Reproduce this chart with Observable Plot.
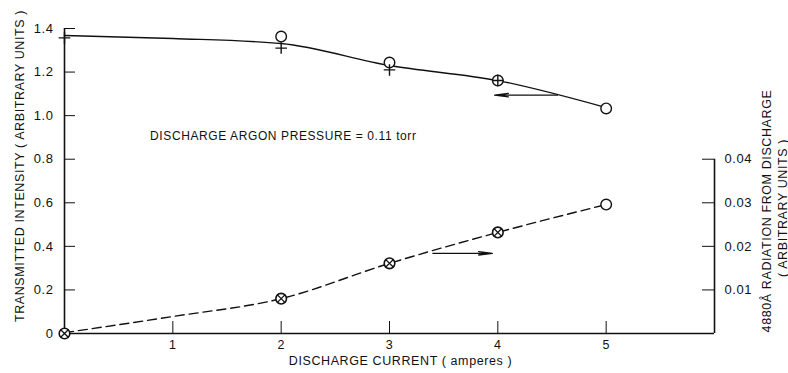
<!DOCTYPE html>
<html><head><meta charset="utf-8">
<script src="https://cdn.jsdelivr.net/npm/d3@7"></script>
<script src="https://cdn.jsdelivr.net/npm/@observablehq/plot@0.6"></script>
<style>
body{margin:0;background:#fff;}
#chart svg{display:block;}
</style></head><body><div id="chart"></div>
<script>
// Discharge current (amperes)
const current = [0, 1, 2, 3, 4, 5];
// Transmitted intensity (left axis, arbitrary units): smooth curve readings
const transmittedCurve = [1.368, 1.354, 1.331, 1.230, 1.161, 1.037];
// Open-circle measurements
const circleX = [2, 3, 4, 5];
const circleY = [1.363, 1.244, 1.161, 1.033];
// Plus measurements
const plusX = [0, 2, 3, 4];
const plusY = [1.357, 1.31, 1.21, 1.161];
// 4880 Å radiation (right axis, arbitrary units)
const radCrossX = [0, 2, 3, 4];
const radCrossY = [0, 0.0080, 0.0161, 0.0232];
const radOpenX = [5];
const radOpenY = [0.0296];
const radCurve = [0.0002, 0.0039, 0.0080, 0.0161, 0.0232, 0.0296];
// Ticks
const xTicks = [1, 2, 3, 4, 5];
const leftTicks = [0, 0.2, 0.4, 0.6, 0.8, 1.0, 1.2, 1.4];
const rightTicks = [0.01, 0.02, 0.03, 0.04];
// Arrows pointing to the relevant axis (x in amperes, y in left units)
const arrowX1 = [4.55, 3.40];
const arrowX2 = [3.97, 3.95];
const arrowY = [1.094, 0.368];
// Texts
const noteText = ["DISCHARGE ARGON PRESSURE = 0.11 torr"];
const noteX = [0.79];
const noteY = [0.905];
const xLabel = "DISCHARGE CURRENT ( amperes )";
const yLabel = "TRANSMITTED INTENSITY ( ARBITRARY UNITS )";
const y2Label1 = "4880Å RADIATION FROM DISCHARGE";
const y2Label2 = "( ARBITRARY UNITS )";

// right axis 0.04 aligns with left 0.8
const K = 0.8 / 0.04;

const W = 788, H = 373, mL = 64, mR = 74, mT = 28, mB = 40;
const fw = W - mL - mR, fh = H - mT - mB;

const curveT = current.map((x, i) => ({x, y: transmittedCurve[i]}));
const curveR = current.map((x, i) => ({x, y: radCurve[i] * K}));
const circles = circleX.map((x, i) => ({x, y: circleY[i]})).concat(radOpenX.map((x, i) => ({x, y: radOpenY[i] * K})));
const pluses = plusX.map((x, i) => ({x, y: plusY[i]}));
const crosses = radCrossX.map((x, i) => ({x, y: radCrossY[i] * K}));
const arrows = arrowX1.map((x1, i) => ({x1, x2: arrowX2[i], y: arrowY[i]}));
const notes = noteText.map((t, i) => ({t, x: noteX[i], y: noteY[i]}));

const ink = "#111";
const chart = Plot.plot({
  width: W, height: H,
  marginLeft: mL, marginRight: mR, marginTop: mT, marginBottom: mB,
  x: {domain: [0, 6], axis: null},
  y: {domain: [0, 1.4], axis: null},
  style: {fontFamily: "Liberation Sans, Arial, sans-serif", fontSize: "12px", color: ink, background: "white", letterSpacing: "0.6px"},
  marks: [
    // axis lines
    Plot.ruleX([0], {y1: 0, y2: 1.4, stroke: ink, strokeWidth: 1.6}),
    Plot.ruleX([6], {y1: 0, y2: 0.04 * K, stroke: ink, strokeWidth: 1.6}),
    Plot.ruleY([0], {x1: 0, x2: 6, stroke: ink, strokeWidth: 1.6}),
    // inward ticks
    Plot.tickY(leftTicks.filter(d => d > 0), {y: d => d, insetRight: fw - 11, stroke: ink, strokeWidth: 1}),
    Plot.tickY(rightTicks, {y: d => d * K, insetLeft: fw - 12, stroke: ink, strokeWidth: 1}),
    Plot.tickX(xTicks, {x: d => d, insetTop: fh - 12, stroke: ink, strokeWidth: 1}),
    // tick labels
    Plot.axisY(leftTicks, {anchor: "left", label: null, tickSize: 0, tickPadding: 11, fontSize: 13, tickFormat: d => d === 0 ? "0" : d.toFixed(1)}),
    Plot.axisY(rightTicks.map(d => d * K), {anchor: "right", label: null, tickSize: 0, tickPadding: 10, fontSize: 13, tickFormat: d => (d / K).toFixed(2)}),
    Plot.axisX(xTicks, {anchor: "bottom", label: null, tickSize: 0, tickPadding: 7, fontSize: 12.5}),
    // axis titles
    Plot.text([yLabel], {text: d => d, frameAnchor: "left", textAnchor: "middle", lineAnchor: "middle", dx: -45, dy: -15, rotate: -90, fontSize: 12.5, fill: ink}),
    Plot.text([y2Label1], {text: d => d, frameAnchor: "right", textAnchor: "middle", lineAnchor: "middle", dx: 52, dy: 30, rotate: -90, fontSize: 12.5, fill: ink}),
    Plot.text([y2Label2], {text: d => d, frameAnchor: "right", textAnchor: "middle", lineAnchor: "middle", dx: 68, dy: 27, rotate: -90, fontSize: 12.5, fill: ink}),
    Plot.text([xLabel], {text: d => d, frameAnchor: "bottom", textAnchor: "middle", lineAnchor: "middle", dx: 11, dy: 27, fontSize: 12.5, fill: ink}),
    // note
    Plot.text(notes, {x: "x", y: "y", text: "t", textAnchor: "start", fontSize: 12, fill: ink}),
    // curves
    Plot.line(curveT, {x: "x", y: "y", curve: "monotone-x", stroke: ink, strokeWidth: 1.4}),
    Plot.line(curveR, {x: "x", y: "y", curve: "monotone-x", stroke: ink, strokeWidth: 1.4, strokeDasharray: "9,5"}),
    // arrows
    Plot.arrow(arrows, {x1: "x1", x2: "x2", y1: "y", y2: "y", stroke: ink, strokeWidth: 1.3, headLength: 16, headAngle: 14}),
    // markers
    Plot.dot(circles, {x: "x", y: "y", r: 5.3, symbol: "circle", fill: "white", stroke: ink, strokeWidth: 1.4}),
    Plot.dot(crosses, {x: "x", y: "y", r: 5.3, symbol: "circle", fill: "white", stroke: ink, strokeWidth: 1.6}),
    Plot.dot(crosses, {x: "x", y: "y", r: 3.7, symbol: "times", stroke: ink, strokeWidth: 1.3}),
    Plot.dot(pluses, {x: "x", y: "y", r: 3.8, symbol: "plus", stroke: ink, strokeWidth: 1.4})
  ]
});
document.getElementById("chart").appendChild(chart);
</script>
</body></html>
